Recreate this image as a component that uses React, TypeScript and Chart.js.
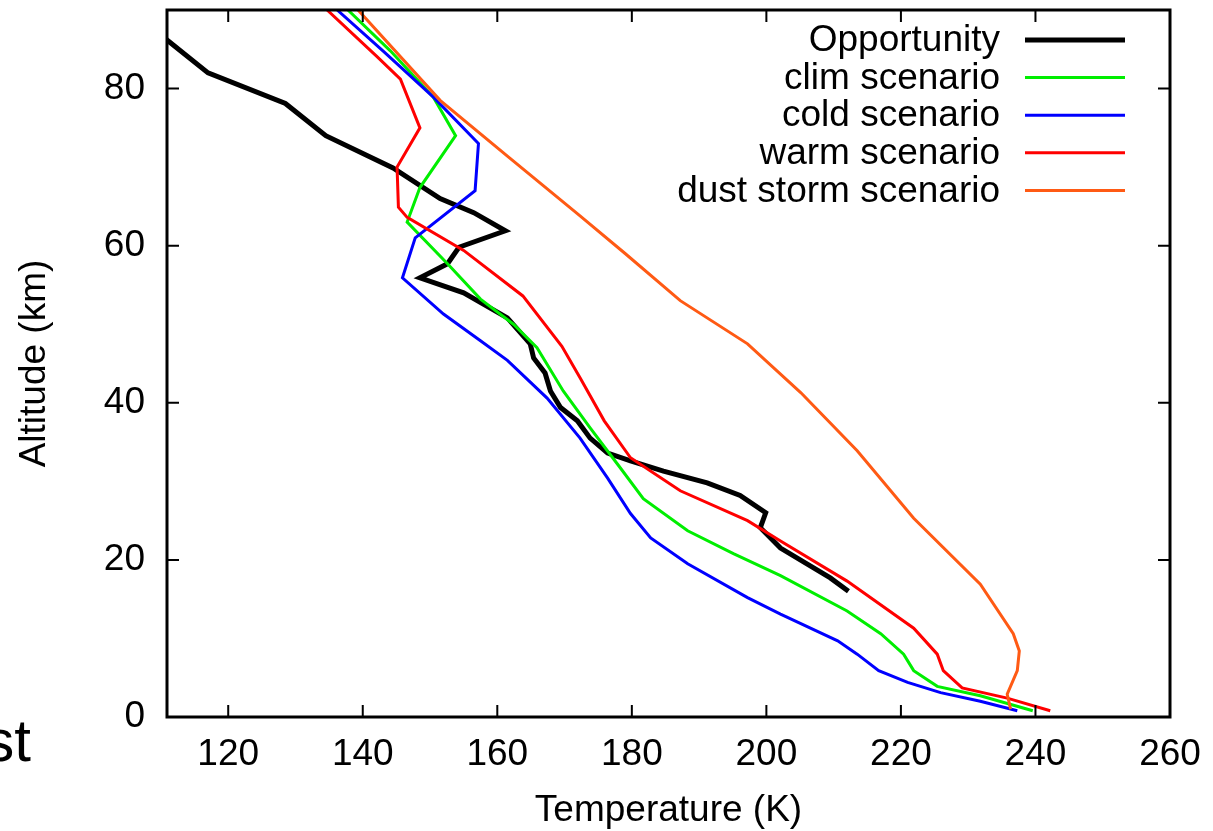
import React, { useEffect, useRef } from 'react';
import { Chart, registerables } from 'chart.js';

Chart.register(...registerables);

const FONT = "'Liberation Sans', Arial, Helvetica, sans-serif";

const xTicks = [120, 140, 160, 180, 200, 220, 240, 260];
const yTicks = [0, 20, 40, 60, 80];

const seriesNames = ['Opportunity', 'clim scenario', 'cold scenario', 'warm scenario', 'dust storm scenario'];
const seriesColors = ['#000000', '#00ee00', '#0000ff', '#ff0000', '#ff5a14'];
const seriesWidths = [5, 3, 3, 3, 3];

const opportunityTemp = [110, 117, 128.5, 134.5, 144.5, 151.5, 156.5, 161.2, 154.3, 152.6, 148.5, 155, 161.5, 164.9, 165.4, 167.1, 167.9, 169.4, 171.9, 173.8, 176.4, 179.8, 184.7, 191.2, 196.1, 199.9, 199.1, 202.1, 209.5, 212.2];
const opportunityAlt = [86.8, 82, 78.1, 74, 69.9, 66, 64.2, 61.9, 59.8, 57.7, 55.9, 54, 50.8, 47.5, 45.7, 43.8, 41.5, 39.4, 37.7, 35.5, 33.6, 32.6, 31.3, 29.8, 28.2, 26, 24.1, 21.5, 17.7, 16];

const climTemp = [137.8, 144.1, 150.5, 153.8, 148.5, 146.6, 152.6, 157.5, 162.4, 165.9, 169.8, 173.8, 178.3, 181.7, 188.3, 195.1, 202.1, 212, 217, 220.4, 221.9, 225.4, 231.8, 239.6];
const climAlt = [90, 84.8, 78.9, 74, 67.4, 63, 57.7, 53.2, 50, 47, 41.5, 36.8, 31.7, 27.8, 23.7, 20.8, 18, 13.5, 10.6, 8, 5.9, 3.9, 2.7, 0.8];

const coldTemp = [136.2, 143, 150.5, 157.2, 156.7, 147.8, 145.9, 152, 157.5, 161.5, 167.4, 172.3, 176.4, 179.8, 182.8, 188.3, 197.2, 202.1, 210.6, 213.5, 216.7, 221, 225.9, 231.8, 237.3];
const coldAlt = [90, 84.8, 78.9, 73, 67, 61, 55.9, 51.3, 47.9, 45.4, 40.6, 35.5, 30.4, 25.9, 22.8, 19.5, 15.2, 13.1, 9.7, 8, 5.9, 4.4, 3.1, 2, 0.8];

const warmTemp = [134.7, 142.2, 145.6, 148.5, 145.1, 145.3, 146.6, 155, 163.8, 169.6, 172.3, 175.9, 179.8, 187.2, 197.2, 202.1, 212, 221.9, 225.4, 226.3, 229.1, 235.8, 242.2];
const warmAlt = [90, 84, 81.2, 75, 70, 64.9, 63.6, 59.4, 53.6, 47.2, 43.2, 37.7, 33, 28.8, 25, 22.4, 17.3, 11.3, 8, 5.9, 3.7, 2.4, 0.8];

const dustTemp = [139.3, 151.5, 161.5, 172.3, 179, 187.2, 197.2, 205.1, 213.5, 221.9, 231.8, 236.7, 237.6, 237.3, 235.8, 236.3];
const dustAlt = [90, 78.5, 71.4, 63.8, 59, 53, 47.5, 41.3, 33.9, 25.3, 16.9, 10.6, 8.4, 5.9, 2.9, 1];

const seriesTemps = [opportunityTemp, climTemp, coldTemp, warmTemp, dustTemp];
const seriesAlts = [opportunityAlt, climAlt, coldAlt, warmAlt, dustAlt];

const framePlugin = {
  id: 'gnuFrame',
  afterDatasetsDraw(chart: any) {
    const { ctx, chartArea: a, scales } = chart;
    ctx.save();
    ctx.strokeStyle = '#000';
    ctx.lineWidth = 2;
    ctx.beginPath();
    for (const v of xTicks) {
      const px = scales.x.getPixelForValue(v);
      ctx.moveTo(px, a.bottom);
      ctx.lineTo(px, a.bottom - 12);
      ctx.moveTo(px, a.top);
      ctx.lineTo(px, a.top + 12);
    }
    for (const v of yTicks) {
      const py = scales.y.getPixelForValue(v);
      ctx.moveTo(a.left, py);
      ctx.lineTo(a.left + 12, py);
      ctx.moveTo(a.right, py);
      ctx.lineTo(a.right - 12, py);
    }
    ctx.stroke();
    ctx.lineWidth = 3;
    ctx.strokeRect(a.left, a.top, a.right - a.left, a.bottom - a.top);

    // gnuplot-style key: text right-aligned, sample line to the right
    ctx.font = `37px ${FONT}`;
    ctx.textAlign = 'right';
    ctx.textBaseline = 'middle';
    seriesNames.forEach((name, i) => {
      const y = 40 + i * 37.6;
      ctx.fillStyle = '#000';
      ctx.fillText(name, 1000, y + 1);
      ctx.strokeStyle = seriesColors[i];
      ctx.lineWidth = seriesWidths[i];
      ctx.beginPath();
      ctx.moveTo(1025, y);
      ctx.lineTo(1125, y);
      ctx.stroke();
    });
    ctx.restore();
  },
};

export default function App() {
  const ref = useRef<HTMLCanvasElement>(null);
  useEffect(() => {
    if (!ref.current) return;
    Chart.defaults.font.family = FONT;
    const datasets = seriesNames.map((name, i) => ({
      label: name,
      data: seriesTemps[i].map((t, j) => ({ x: t, y: seriesAlts[i][j] })),
      borderColor: seriesColors[i],
      backgroundColor: seriesColors[i],
      borderWidth: seriesWidths[i],
      showLine: true,
      pointRadius: 0,
      tension: 0,
      order: seriesNames.length - i,
    }));
    const chart = new Chart(ref.current, {
      type: 'scatter',
      data: { datasets },
      plugins: [framePlugin],
      options: {
        animation: false,
        responsive: false,
        layout: { padding: { top: 10, right: 43, left: 0, bottom: 0 } },
        plugins: { legend: { display: false }, tooltip: { enabled: false } },
        scales: {
          x: {
            type: 'linear',
            min: 110.9,
            max: 260,
            afterBuildTicks: (axis: any) => {
              axis.ticks = xTicks.map((v) => ({ value: v }));
            },
            afterFit: (scale: any) => {
              scale.height = 114;
              scale.paddingLeft = 0;
              scale.paddingRight = 0;
              scale.paddingTop = 0;
              scale.paddingBottom = 0;
            },
            grid: { display: false, drawTicks: false },
            border: { display: false },
            ticks: { color: '#000', font: { size: 37 }, padding: 16, maxRotation: 0, autoSkip: false },
            title: {
              display: true,
              text: 'Temperature (K)',
              color: '#000',
              font: { size: 37, lineHeight: 1 },
              padding: { top: 0, bottom: 2 },
            },
          },
          y: {
            type: 'linear',
            min: 0,
            max: 90,
            afterBuildTicks: (axis: any) => {
              axis.ticks = yTicks.map((v) => ({ value: v }));
            },
            afterFit: (scale: any) => {
              scale.width = 167;
              scale.paddingLeft = 0;
              scale.paddingRight = 0;
              scale.paddingTop = 0;
              scale.paddingBottom = 0;
            },
            grid: { display: false, drawTicks: false },
            border: { display: false },
            ticks: { color: '#000', font: { size: 37 }, padding: 22 },
            title: {
              display: true,
              text: 'Altitude (km)',
              color: '#000',
              font: { size: 37, lineHeight: 1 },
              padding: { top: 16, bottom: 0 },
            },
          },
        },
      },
    });
    return () => chart.destroy();
  }, []);

  return (
    <div style={{ position: 'absolute', left: 0, top: 0, width: 1213, height: 831, overflow: 'hidden', background: '#fff' }}>
      <canvas ref={ref} width={1213} height={831} style={{ width: 1213, height: 831, display: 'block' }} />
      <div
        style={{
          position: 'absolute',
          left: -120,
          width: 151,
          top: 711,
          textAlign: 'right',
          fontFamily: FONT,
          fontSize: 60,
          lineHeight: '60px',
          color: '#000',
        }}
      >
        st
      </div>
    </div>
  );
}
